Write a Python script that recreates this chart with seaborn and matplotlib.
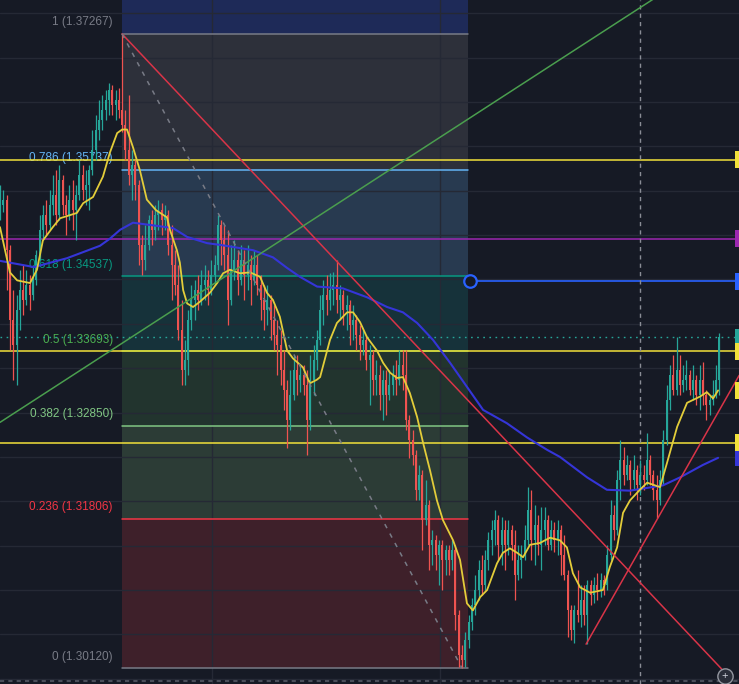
#!/usr/bin/env python3
"""
GBP-style daily chart with a fibonacci retracement, two moving averages
and a few hand drawn trend lines. Dark TradingView look.
Output: out.png (739x684)
"""

import matplotlib
matplotlib.use("Agg")
import numpy as np
import pandas as pd
import matplotlib.pyplot as plt
import matplotlib.transforms as mtransforms
from matplotlib.patches import Rectangle
import seaborn as sns

# ---------------- candles (one per bar) ----------------
closes = [
    1.3534, 1.3540, 1.3483, 1.3404, 1.3376, 1.3416, 1.3438, 1.3427, 1.3444, 1.3432,
    1.3449, 1.3478, 1.3506, 1.3523, 1.3511, 1.3534, 1.3545, 1.3523, 1.3562, 1.3534,
    1.3523, 1.3540, 1.3528, 1.3545, 1.3568, 1.3551, 1.3556, 1.3573, 1.3596, 1.3618,
    1.3630, 1.3641, 1.3652, 1.3664, 1.3647, 1.3652, 1.3641, 1.3624, 1.3596, 1.3568,
    1.3579, 1.3556, 1.3489, 1.3472, 1.3489, 1.3517, 1.3506, 1.3523, 1.3528, 1.3517,
    1.3523, 1.3489, 1.3466, 1.3444, 1.3393, 1.3348, 1.3359, 1.3404, 1.3427, 1.3438,
    1.3427, 1.3444, 1.3449, 1.3438, 1.3455, 1.3466, 1.3511, 1.3494, 1.3478, 1.3427,
    1.3461, 1.3472, 1.3449, 1.3472, 1.3455, 1.3466, 1.3449, 1.3466, 1.3444, 1.3427,
    1.3416, 1.3427, 1.3404, 1.3387, 1.3376, 1.3348, 1.3325, 1.3292, 1.3320, 1.3348,
    1.3337, 1.3342, 1.3331, 1.3292, 1.3337, 1.3359, 1.3382, 1.3416, 1.3432, 1.3427,
    1.3438, 1.3444, 1.3427, 1.3432, 1.3416, 1.3421, 1.3399, 1.3404, 1.3387, 1.3376,
    1.3382, 1.3359, 1.3365, 1.3337, 1.3342, 1.3320, 1.3337, 1.3320, 1.3331, 1.3342,
    1.3337, 1.3354, 1.3342, 1.3292, 1.3269, 1.3252, 1.3213, 1.3230, 1.3179, 1.3196,
    1.3151, 1.3156, 1.3139, 1.3151, 1.3134, 1.3145, 1.3134, 1.3145, 1.3072, 1.3027,
    1.3021, 1.3044, 1.3064, 1.3083, 1.3100, 1.3123, 1.3106, 1.3134, 1.3156, 1.3168,
    1.3179, 1.3151, 1.3168, 1.3151, 1.3168, 1.3151, 1.3117, 1.3134, 1.3139, 1.3156,
    1.3190, 1.3156, 1.3173, 1.3151, 1.3168, 1.3179, 1.3151, 1.3168, 1.3156, 1.3168,
    1.3139, 1.3117, 1.3077, 1.3055, 1.3077, 1.3072, 1.3089, 1.3072, 1.3106, 1.3094,
    1.3106, 1.3100, 1.3111, 1.3106, 1.3139, 1.3185, 1.3168, 1.3224, 1.3247, 1.3230,
    1.3241, 1.3224, 1.3235, 1.3218, 1.3230, 1.3224, 1.3247, 1.3230, 1.3213, 1.3201,
    1.3224, 1.3269, 1.3314, 1.3342, 1.3325, 1.3348, 1.3331, 1.3337, 1.3342, 1.3325,
    1.3337, 1.3320, 1.3337, 1.3320, 1.3309, 1.3314, 1.3320, 1.3337, 1.3385,
]
opens = [
    1.3523, 1.3534, 1.3540, 1.3483, 1.3404, 1.3376, 1.3416, 1.3438, 1.3427, 1.3444,
    1.3432, 1.3449, 1.3478, 1.3506, 1.3523, 1.3511, 1.3534, 1.3545, 1.3523, 1.3562,
    1.3534, 1.3523, 1.3540, 1.3528, 1.3545, 1.3568, 1.3551, 1.3556, 1.3573, 1.3596,
    1.3618, 1.3630, 1.3641, 1.3652, 1.3664, 1.3647, 1.3652, 1.3641, 1.3624, 1.3596,
    1.3568, 1.3579, 1.3556, 1.3489, 1.3472, 1.3489, 1.3517, 1.3506, 1.3523, 1.3528,
    1.3517, 1.3523, 1.3489, 1.3466, 1.3444, 1.3393, 1.3348, 1.3359, 1.3404, 1.3427,
    1.3438, 1.3427, 1.3444, 1.3449, 1.3438, 1.3455, 1.3466, 1.3511, 1.3494, 1.3478,
    1.3427, 1.3461, 1.3472, 1.3449, 1.3472, 1.3455, 1.3466, 1.3449, 1.3466, 1.3444,
    1.3427, 1.3416, 1.3427, 1.3404, 1.3387, 1.3376, 1.3348, 1.3325, 1.3292, 1.3320,
    1.3348, 1.3337, 1.3342, 1.3331, 1.3292, 1.3337, 1.3359, 1.3382, 1.3416, 1.3432,
    1.3427, 1.3438, 1.3444, 1.3427, 1.3432, 1.3416, 1.3421, 1.3399, 1.3404, 1.3387,
    1.3376, 1.3382, 1.3359, 1.3365, 1.3337, 1.3342, 1.3320, 1.3337, 1.3320, 1.3331,
    1.3342, 1.3337, 1.3354, 1.3342, 1.3292, 1.3269, 1.3252, 1.3213, 1.3230, 1.3179,
    1.3196, 1.3151, 1.3156, 1.3139, 1.3151, 1.3134, 1.3145, 1.3134, 1.3145, 1.3072,
    1.3027, 1.3021, 1.3044, 1.3064, 1.3083, 1.3100, 1.3123, 1.3106, 1.3134, 1.3156,
    1.3168, 1.3179, 1.3151, 1.3168, 1.3151, 1.3168, 1.3151, 1.3117, 1.3134, 1.3139,
    1.3156, 1.3190, 1.3156, 1.3173, 1.3151, 1.3168, 1.3179, 1.3151, 1.3168, 1.3156,
    1.3168, 1.3139, 1.3117, 1.3077, 1.3055, 1.3077, 1.3072, 1.3089, 1.3072, 1.3106,
    1.3094, 1.3106, 1.3100, 1.3111, 1.3106, 1.3139, 1.3185, 1.3168, 1.3224, 1.3247,
    1.3230, 1.3241, 1.3224, 1.3235, 1.3218, 1.3230, 1.3224, 1.3247, 1.3230, 1.3213,
    1.3201, 1.3224, 1.3269, 1.3314, 1.3342, 1.3325, 1.3348, 1.3331, 1.3337, 1.3342,
    1.3325, 1.3337, 1.3320, 1.3337, 1.3320, 1.3309, 1.3314, 1.3320, 1.3337,
]
highs = [
    1.3556, 1.3551, 1.3545, 1.3489, 1.3438, 1.3432, 1.3461, 1.3466, 1.3461, 1.3455,
    1.3466, 1.3483, 1.3523, 1.3534, 1.3540, 1.3551, 1.3568, 1.3573, 1.3579, 1.3568,
    1.3545, 1.3556, 1.3562, 1.3556, 1.3585, 1.3579, 1.3573, 1.3579, 1.3618, 1.3635,
    1.3652, 1.3658, 1.3664, 1.3672, 1.3669, 1.3664, 1.3666, 1.37267, 1.3641, 1.3658,
    1.3596, 1.3585, 1.3562, 1.3500, 1.3511, 1.3523, 1.3528, 1.3534, 1.3540, 1.3536,
    1.3534, 1.3528, 1.3511, 1.3483, 1.3466, 1.3427, 1.3382, 1.3416, 1.3444, 1.3449,
    1.3455, 1.3461, 1.3466, 1.3461, 1.3472, 1.3478, 1.3523, 1.3517, 1.3511, 1.3506,
    1.3489, 1.3494, 1.3483, 1.3489, 1.3483, 1.3489, 1.3478, 1.3483, 1.3478, 1.3455,
    1.3444, 1.3444, 1.3432, 1.3421, 1.3404, 1.3393, 1.3370, 1.3337, 1.3348, 1.3365,
    1.3365, 1.3354, 1.3354, 1.3348, 1.3365, 1.3376, 1.3393, 1.3432, 1.3449, 1.3455,
    1.3457, 1.3458, 1.3472, 1.3444, 1.3438, 1.3432, 1.3427, 1.3421, 1.3410, 1.3399,
    1.3393, 1.3387, 1.3376, 1.3370, 1.3359, 1.3354, 1.3348, 1.3348, 1.3348, 1.3354,
    1.3359, 1.3370, 1.3370, 1.3370, 1.3297, 1.3280, 1.3258, 1.3241, 1.3235, 1.3224,
    1.3201, 1.3168, 1.3162, 1.3156, 1.3156, 1.3151, 1.3151, 1.3156, 1.3151, 1.3077,
    1.3038, 1.3053, 1.3072, 1.3091, 1.3117, 1.3134, 1.3139, 1.3145, 1.3165, 1.3179,
    1.3190, 1.3185, 1.3182, 1.3179, 1.3179, 1.3173, 1.3168, 1.3151, 1.3151, 1.3173,
    1.3216, 1.3213, 1.3196, 1.3185, 1.3194, 1.3194, 1.3185, 1.3179, 1.3177, 1.3179,
    1.3173, 1.3162, 1.3123, 1.3083, 1.3083, 1.3123, 1.3106, 1.3106, 1.3111, 1.3111,
    1.3115, 1.3119, 1.3119, 1.3117, 1.3151, 1.3201, 1.3196, 1.3235, 1.3269, 1.3261,
    1.3252, 1.3247, 1.3252, 1.3241, 1.3247, 1.3241, 1.3277, 1.3252, 1.3235, 1.3230,
    1.3235, 1.3280, 1.3331, 1.3354, 1.3365, 1.3385, 1.3365, 1.3354, 1.3359, 1.3348,
    1.3354, 1.3342, 1.3354, 1.3357, 1.3325, 1.3320, 1.3337, 1.3354, 1.3390,
]
lows = [
    1.3517, 1.3526, 1.3438, 1.3370, 1.3337, 1.3331, 1.3393, 1.3410, 1.3421, 1.3416,
    1.3427, 1.3444, 1.3472, 1.3494, 1.3500, 1.3506, 1.3523, 1.3511, 1.3517, 1.3523,
    1.3500, 1.3517, 1.3506, 1.3494, 1.3540, 1.3540, 1.3534, 1.3528, 1.3568, 1.3585,
    1.3607, 1.3618, 1.3630, 1.3635, 1.3635, 1.3630, 1.3632, 1.3616, 1.3585, 1.3556,
    1.3540, 1.3540, 1.3466, 1.3455, 1.3461, 1.3483, 1.3489, 1.3494, 1.3506, 1.3500,
    1.3506, 1.3478, 1.3427, 1.3432, 1.3382, 1.3331, 1.3331, 1.3342, 1.3393, 1.3404,
    1.3416, 1.3421, 1.3427, 1.3421, 1.3432, 1.3444, 1.3461, 1.3466, 1.3461, 1.3399,
    1.3421, 1.3449, 1.3432, 1.3444, 1.3427, 1.3438, 1.3421, 1.3444, 1.3432, 1.3404,
    1.3393, 1.3399, 1.3382, 1.3370, 1.3342, 1.3331, 1.3303, 1.3260, 1.3280, 1.3314,
    1.3320, 1.3323, 1.3320, 1.3252, 1.3280, 1.3320, 1.3348, 1.3376, 1.3399, 1.3410,
    1.3416, 1.3421, 1.3412, 1.3404, 1.3399, 1.3393, 1.3376, 1.3382, 1.3370, 1.3359,
    1.3365, 1.3348, 1.3309, 1.3320, 1.3320, 1.3303, 1.3292, 1.3297, 1.3314, 1.3320,
    1.3320, 1.3331, 1.3325, 1.3280, 1.3249, 1.3241, 1.3201, 1.3201, 1.3145, 1.3173,
    1.3123, 1.3128, 1.3123, 1.3106, 1.3100, 1.3117, 1.3117, 1.3123, 1.3055, 1.3013,
    1.30120, 1.3013, 1.3035, 1.3055, 1.3072, 1.3089, 1.3094, 1.3100, 1.3123, 1.3139,
    1.3151, 1.3134, 1.3128, 1.3123, 1.3139, 1.3134, 1.3089, 1.3111, 1.3114, 1.3134,
    1.3151, 1.3134, 1.3128, 1.3139, 1.3123, 1.3151, 1.3145, 1.3145, 1.3143, 1.3140,
    1.3117, 1.3111, 1.3047, 1.3044, 1.3040, 1.3064, 1.3058, 1.3061, 1.3039, 1.3083,
    1.3085, 1.3089, 1.3092, 1.3094, 1.3100, 1.3134, 1.3156, 1.3162, 1.3201, 1.3218,
    1.3224, 1.3207, 1.3213, 1.3201, 1.3207, 1.3213, 1.3218, 1.3218, 1.3201, 1.3181,
    1.3196, 1.3218, 1.3263, 1.3303, 1.3320, 1.3320, 1.3320, 1.3323, 1.3325, 1.3320,
    1.3314, 1.3309, 1.3303, 1.3309, 1.3292, 1.3297, 1.3309, 1.3316, 1.3320,
]

# ---------------- moving averages (read at sample bars) ----------------
ma_fast_x = [0, 3, 5.2, 9.1, 11.2, 13, 16, 18.2, 23.3, 25.2, 28.2, 31.2, 33.3, 35.5, 37,
             38.5, 40.3, 42.4, 44.5, 47.3, 50.6, 51.5, 53.6, 54.5, 55.5, 56.7, 58.5, 60.6,
             63.6, 65.8, 67.6, 69.7, 72.7, 75.8, 78.8, 80.9, 82.7, 84.8, 87, 88.8, 91.8,
             93.9, 96, 97, 100, 102.1, 105.2, 107, 109.1, 111.2, 114.2, 116.1, 118.2, 120.3,
             122.1, 124.2, 126.4, 128.2, 130.3, 132.4, 134.2, 137.3, 139.4, 141.5, 143.3,
             145.5, 147.6, 150.6, 152.4, 154.5, 156.7, 158.5, 160.6, 163.6, 166.7, 169.7,
             171.8, 173.6, 175.8, 178.8, 182.7, 184.8, 187, 188.8, 190.9, 193.9, 196.1,
             200, 202.1, 205.2, 208.2, 212.1, 214.2, 216.1, 217.6]
ma_fast_y = [1.3509, 1.3458, 1.3449, 1.3446, 1.3461, 1.3494, 1.3509, 1.3519, 1.3525, 1.3536,
             1.3543, 1.3566, 1.3593, 1.3615, 1.3619, 1.3619, 1.3599, 1.3573, 1.3540, 1.3528,
             1.3520, 1.3506, 1.3483, 1.3469, 1.3438, 1.3423, 1.3419, 1.3425, 1.3435, 1.3446,
             1.3457, 1.3461, 1.3457, 1.3458, 1.3453, 1.3435, 1.3427, 1.3408, 1.3370, 1.3361,
             1.3351, 1.3333, 1.3337, 1.3340, 1.3382, 1.3401, 1.3413, 1.3413, 1.3402, 1.3385,
             1.3370, 1.3356, 1.3345, 1.3339, 1.3340, 1.3322, 1.3295, 1.3266, 1.3235, 1.3201,
             1.3179, 1.3156, 1.3134, 1.3085, 1.3077, 1.3092, 1.3100, 1.3130, 1.3142, 1.3147,
             1.3142, 1.3137, 1.3151, 1.3153, 1.3159, 1.3156, 1.3148, 1.3119, 1.3103, 1.3097,
             1.3100, 1.3126, 1.3148, 1.3187, 1.3201, 1.3213, 1.3221, 1.3216, 1.3243, 1.3284,
             1.3311, 1.3318, 1.3323, 1.3316, 1.3325]
ma_slow_x = [0, 10.3, 20.3, 30.3, 33.3, 36.4, 40.3, 46.4, 52.4, 56.7, 62.7, 66.7, 76.7,
             82.7, 87, 90.9, 96.1, 103.9, 111.2, 117.3, 122.1, 126.4, 131.2, 136.4, 141.5,
             146.4, 153.6, 159.7, 165.8, 169.7, 177.9, 183.9, 190.9, 200.9, 206.1, 213, 217.6]
ma_slow_y = [1.3471, 1.3464, 1.3474, 1.3488, 1.3496, 1.3506, 1.3514, 1.3511, 1.3508, 1.3498,
             1.3491, 1.3489, 1.3483, 1.3475, 1.3463, 1.3453, 1.3442, 1.3440, 1.3430, 1.3419,
             1.3413, 1.3401, 1.3382, 1.3356, 1.3329, 1.3303, 1.3288, 1.3272, 1.3258, 1.3250,
             1.3227, 1.3213, 1.3212, 1.3218, 1.3227, 1.3241, 1.3249]

# ---------------- fibonacci retracement ----------------
fib_start, fib_end = 37, 141.8
fib_prices = [1.37267, 1.35737, 1.34537, 1.33693, 1.32850, 1.31806, 1.30120]
fib_labels = ["1 (1.37267)", "0.786 (1.35737)", "0.618 (1.34537)", "0.5 (1.33693)",
              "0.382 (1.32850)", "0.236 (1.31806)", "0 (1.30120)"]
fib_line_colors = ["#787b86", "#64b5f6", "#089981", "#4caf50", "#81c784", "#f23645", "#787b86"]
fib_fill_colors = ["#2d303a", "#283a50", "#16323a", "#22342e", "#2c3c36", "#3e202a"]
fib_top_fill = "#1e2a58"

# ---------------- drawings ----------------
hline_prices = [1.3585, 1.3496, 1.33693, 1.3266]
hline_colors = ["#f2e13a", "#9c27b0", "#f2e13a", "#f2e13a"]
ray_price, ray_start = 1.3448, 142.4
last_price = 1.3385
trend_red_1 = ([37, 219.7], [1.37267, 1.3007])
trend_red_2 = ([177.6, 224], [1.3039, 1.3342])
trend_green = ([0, 210], [1.3289, 1.3795])
fib_diag = ([37, 140], [1.37267, 1.30120])
vline_bar = 193.9
tag_prices = [1.3585, 1.3496, 1.3448, 1.3385, 1.33693, 1.3325, 1.3249, 1.3266]
tag_colors = ["#f2e13a", "#9c27b0", "#2962ff", "#26a69a", "#f2e13a", "#f2e13a", "#3535d8", "#f2e13a"]

BG = "#161a25"
UP, DOWN = "#26a69a", "#ef5350"

sns.set_theme(style="darkgrid", rc={
    "axes.facecolor": BG, "figure.facecolor": BG,
    "grid.color": "#252935", "grid.linewidth": 1.0,
})
plt.rcParams["font.family"] = ["Liberation Sans", "DejaVu Sans"]

df = pd.DataFrame({"open": opens, "high": highs, "low": lows, "close": closes})
df["bar"] = np.arange(len(df))
df["color"] = np.where(df["close"] >= df["open"], UP, DOWN)

fig = plt.figure(figsize=(7.39, 6.84), dpi=100)
ax = fig.add_axes([0, 0, 1, 1])
ax.set_xlim(0, 739 / 3.3)
ax.set_ylim(1.29941, 1.37650)
ax.set_axisbelow(True)
ax.set_yticks(np.arange(1.300, 1.3751, 0.005))
ax.set_xticks([64.2, 133.3])
ax.tick_params(labelleft=False, labelbottom=False, length=0)
for sp in ax.spines.values():
    sp.set_visible(False)

# fib boxes
ax.fill_between([fib_start, fib_end], fib_prices[0], 1.3765, color=fib_top_fill, lw=0, zorder=0.2)
for i, col in enumerate(fib_fill_colors):
    ax.fill_between([fib_start, fib_end], fib_prices[i + 1], fib_prices[i], color=col, lw=0, zorder=0.2)
for p, col, lab in zip(fib_prices, fib_line_colors, fib_labels):
    ax.plot([fib_start, fib_end], [p, p], color=col, lw=1.1, zorder=1)
    ax.annotate(lab, xy=(34.2, p), xytext=(0, 4), textcoords="offset points",
                ha="right", va="bottom", fontsize=8.5, color=col, zorder=1.5)

# horizontal levels
for p, col in zip(hline_prices, hline_colors):
    ax.axhline(p, color=col, lw=1.1, zorder=2)
ax.plot([ray_start, 224], [ray_price, ray_price], color="#2962ff", lw=1.2, zorder=2)
ax.axhline(last_price, color="#26a69a", lw=1, ls=(0, (1.2, 3.2)), zorder=2)
ax.axvline(vline_bar, color="#8a8d96", lw=1, ls=(0, (3, 3)), zorder=2)

# candles
ax.vlines(df["bar"], df["low"], df["high"], colors=df["color"], lw=0.9, zorder=3)
ax.bar(df["bar"], df["close"] - df["open"], bottom=df["open"], width=0.6,
       color=df["color"], linewidth=0, zorder=3)

# moving averages
sns.lineplot(x=ma_slow_x, y=ma_slow_y, ax=ax, color="#3535d8", lw=1.5, zorder=4)
sns.lineplot(x=ma_fast_x, y=ma_fast_y, ax=ax, color="#e3cd3a", lw=1.3, zorder=4)

# trend lines
ax.plot(*trend_red_1, color="#d93448", lw=1.1, zorder=5)
ax.plot(*trend_red_2, color="#d93448", lw=1.1, zorder=5)
ax.plot(*trend_green, color="#4a9e4e", lw=1.1, zorder=5)
ax.plot(*fib_diag, color="#787b86", lw=1.1, ls=(0, (3, 4)), zorder=5)
ax.plot(ray_start, ray_price, marker="o", ms=9, mfc=BG, mec="#2962ff", mew=1.6, zorder=6)

# price scale tags at the right edge
trans = mtransforms.blended_transform_factory(ax.transAxes, ax.transData)
for p, col in zip(tag_prices, tag_colors):
    ax.add_patch(Rectangle((735 / 739, p - 0.00095), 4 / 739, 0.0019,
                           transform=trans, color=col, lw=0, zorder=7, clip_on=False))

# time-scale dashes and the zoom button at the bottom
ax.plot([0, 1], [0.004, 0.004], transform=ax.transAxes, color="#4a4e5a", lw=1.5,
        ls=(0, (2, 2)), zorder=7)
ax.plot(725 / 739, 8 / 684, transform=ax.transAxes, marker="o", ms=11, mfc="#2a2e39",
        mec="#9598a1", mew=1, zorder=8, clip_on=False)
ax.text(725 / 739, 8 / 684, "+", transform=ax.transAxes, ha="center", va="center",
        color="#d1d4dc", fontsize=8, zorder=9)

fig.savefig("out.png", dpi=100, facecolor=BG)
plt.close(fig)
print("[OK] saved out.png")
